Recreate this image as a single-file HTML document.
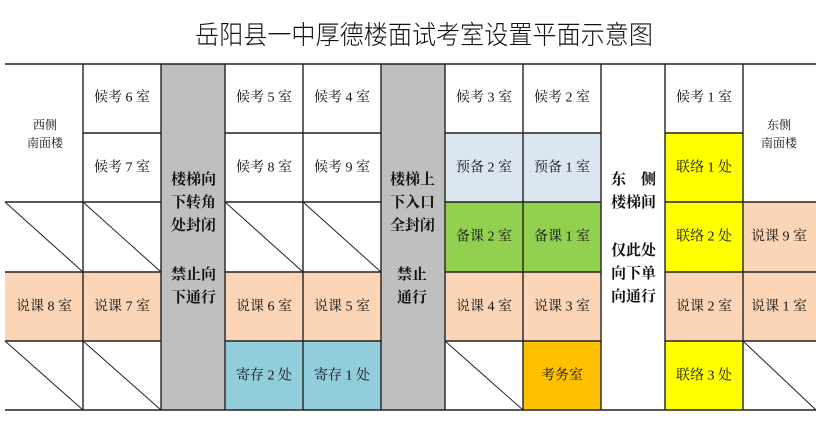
<!DOCTYPE html>
<html><head><meta charset="utf-8"><style>
html,body{margin:0;padding:0;background:#fff;width:816px;height:429px;overflow:hidden}
svg{display:block}
text{font-family:"Liberation Serif","Noto Serif CJK SC",serif;fill:#111}
.t{font-size:14px;text-anchor:middle;dominant-baseline:central}
.s{font-size:12px;text-anchor:middle;dominant-baseline:central}
.b{font-size:15px;font-weight:bold;text-anchor:start;dominant-baseline:central;font-family:"Liberation Serif","Noto Serif CJK SC",serif}
</style></head><body>
<svg width="816" height="429" viewBox="0 0 816 429" xmlns="http://www.w3.org/2000/svg">
<text x="195" y="35" textLength="458" lengthAdjust="spacingAndGlyphs" style="font-family:'Liberation Sans','Noto Sans CJK SC',sans-serif;font-size:26px;dominant-baseline:central;font-weight:300">岳阳县一中厚德楼面试考室设置平面示意图</text>
<g>
<rect x="161" y="64" width="64" height="346" fill="#bfbfbf"/>
<rect x="381" y="64" width="64" height="346" fill="#bfbfbf"/>
<rect x="5" y="272" width="78" height="69" fill="#fbd5b5"/>
<rect x="83" y="272" width="78" height="69" fill="#fbd5b5"/>
<rect x="225" y="272" width="78" height="69" fill="#fbd5b5"/>
<rect x="303" y="272" width="78" height="69" fill="#fbd5b5"/>
<rect x="445" y="272" width="78" height="69" fill="#fbd5b5"/>
<rect x="523" y="272" width="78" height="69" fill="#fbd5b5"/>
<rect x="665" y="272" width="78" height="69" fill="#fbd5b5"/>
<rect x="743" y="272" width="73" height="69" fill="#fbd5b5"/>
<rect x="743" y="202" width="73" height="70" fill="#fbd5b5"/>
<rect x="225" y="341" width="156" height="69" fill="#92cddc"/>
<rect x="445" y="133" width="156" height="69" fill="#dce6f1"/>
<rect x="445" y="202" width="156" height="70" fill="#92d050"/>
<rect x="523" y="341" width="78" height="69" fill="#ffc000"/>
<rect x="665" y="133" width="78" height="139" fill="#ffff00"/>
<rect x="665" y="341" width="78" height="69" fill="#ffff00"/>
</g>
<g stroke="#222" stroke-width="1.4" fill="none">
<line x1="5" y1="64" x2="816" y2="64"/>
<line x1="5" y1="410" x2="816" y2="410"/>
<line x1="83" y1="64" x2="83" y2="410"/>
<line x1="161" y1="64" x2="161" y2="410"/>
<line x1="225" y1="64" x2="225" y2="410"/>
<line x1="303" y1="64" x2="303" y2="410"/>
<line x1="381" y1="64" x2="381" y2="410"/>
<line x1="445" y1="64" x2="445" y2="410"/>
<line x1="523" y1="64" x2="523" y2="410"/>
<line x1="601" y1="64" x2="601" y2="410"/>
<line x1="665" y1="64" x2="665" y2="410"/>
<line x1="743" y1="64" x2="743" y2="410"/>
<line x1="83" y1="133" x2="161" y2="133"/>
<line x1="225" y1="133" x2="381" y2="133"/>
<line x1="445" y1="133" x2="601" y2="133"/>
<line x1="665" y1="133" x2="743" y2="133"/>
<line x1="5" y1="202" x2="161" y2="202"/>
<line x1="225" y1="202" x2="381" y2="202"/>
<line x1="445" y1="202" x2="601" y2="202"/>
<line x1="665" y1="202" x2="816" y2="202"/>
<line x1="5" y1="272" x2="161" y2="272"/>
<line x1="225" y1="272" x2="381" y2="272"/>
<line x1="445" y1="272" x2="601" y2="272"/>
<line x1="665" y1="272" x2="816" y2="272"/>
<line x1="5" y1="341" x2="161" y2="341"/>
<line x1="225" y1="341" x2="381" y2="341"/>
<line x1="445" y1="341" x2="601" y2="341"/>
<line x1="665" y1="341" x2="816" y2="341"/>
<line x1="5" y1="202" x2="83" y2="272" stroke-width="1"/>
<line x1="83" y1="202" x2="161" y2="272" stroke-width="1"/>
<line x1="225" y1="202" x2="303" y2="272" stroke-width="1"/>
<line x1="303" y1="202" x2="381" y2="272" stroke-width="1"/>
<line x1="5" y1="341" x2="83" y2="410" stroke-width="1"/>
<line x1="83" y1="341" x2="161" y2="410" stroke-width="1"/>
<line x1="445" y1="341" x2="523" y2="410" stroke-width="1"/>
<line x1="743" y1="341" x2="816" y2="410" stroke-width="1"/>
</g>
<text class="s" x="45" y="125">西侧</text>
<text class="s" x="45" y="143">南面楼</text>
<text class="s" x="779" y="125">东侧</text>
<text class="s" x="779" y="143">南面楼</text>

<text class="t" x="122" y="98">候考 6 室</text>
<text class="t" x="122" y="168">候考 7 室</text>
<text class="t" x="264" y="98">候考 5 室</text>
<text class="t" x="342" y="98">候考 4 室</text>
<text class="t" x="264" y="168">候考 8 室</text>
<text class="t" x="342" y="168">候考 9 室</text>
<text class="t" x="484" y="98">候考 3 室</text>
<text class="t" x="562" y="98">候考 2 室</text>
<text class="t" x="704" y="98">候考 1 室</text>
<text class="t" x="484" y="168">预备 2 室</text>
<text class="t" x="562" y="168">预备 1 室</text>
<text class="t" x="704" y="168">联络 1 处</text>
<text class="t" x="484" y="237">备课 2 室</text>
<text class="t" x="562" y="237">备课 1 室</text>
<text class="t" x="704" y="237">联络 2 处</text>
<text class="t" x="779" y="237">说课 9 室</text>
<text class="t" x="44" y="307">说课 8 室</text>
<text class="t" x="122" y="307">说课 7 室</text>
<text class="t" x="264" y="307">说课 6 室</text>
<text class="t" x="342" y="307">说课 5 室</text>
<text class="t" x="484" y="307">说课 4 室</text>
<text class="t" x="562" y="307">说课 3 室</text>
<text class="t" x="704" y="307">说课 2 室</text>
<text class="t" x="779" y="307">说课 1 室</text>
<text class="t" x="264" y="376">寄存 2 处</text>
<text class="t" x="342" y="376">寄存 1 处</text>
<text class="t" x="562" y="376">考务室</text>
<text class="t" x="704" y="376">联络 3 处</text>

<text class="b" x="171" y="180">楼梯向</text>
<text class="b" x="171" y="203">下转角</text>
<text class="b" x="171" y="226">处封闭</text>
<text class="b" x="171" y="275">禁止向</text>
<text class="b" x="171" y="298">下通行</text>

<text class="b" x="390" y="180">楼梯上</text>
<text class="b" x="390" y="203">下入口</text>
<text class="b" x="390" y="226">全封闭</text>
<text class="b" x="397" y="275">禁止</text>
<text class="b" x="397" y="298">通行</text>

<text class="b" x="611" y="180">东　侧</text>
<text class="b" x="611" y="203">楼梯间</text>
<text class="b" x="611" y="251">仅此处</text>
<text class="b" x="611" y="274">向下单</text>
<text class="b" x="611" y="297">向通行</text>
</svg>
</body></html>
